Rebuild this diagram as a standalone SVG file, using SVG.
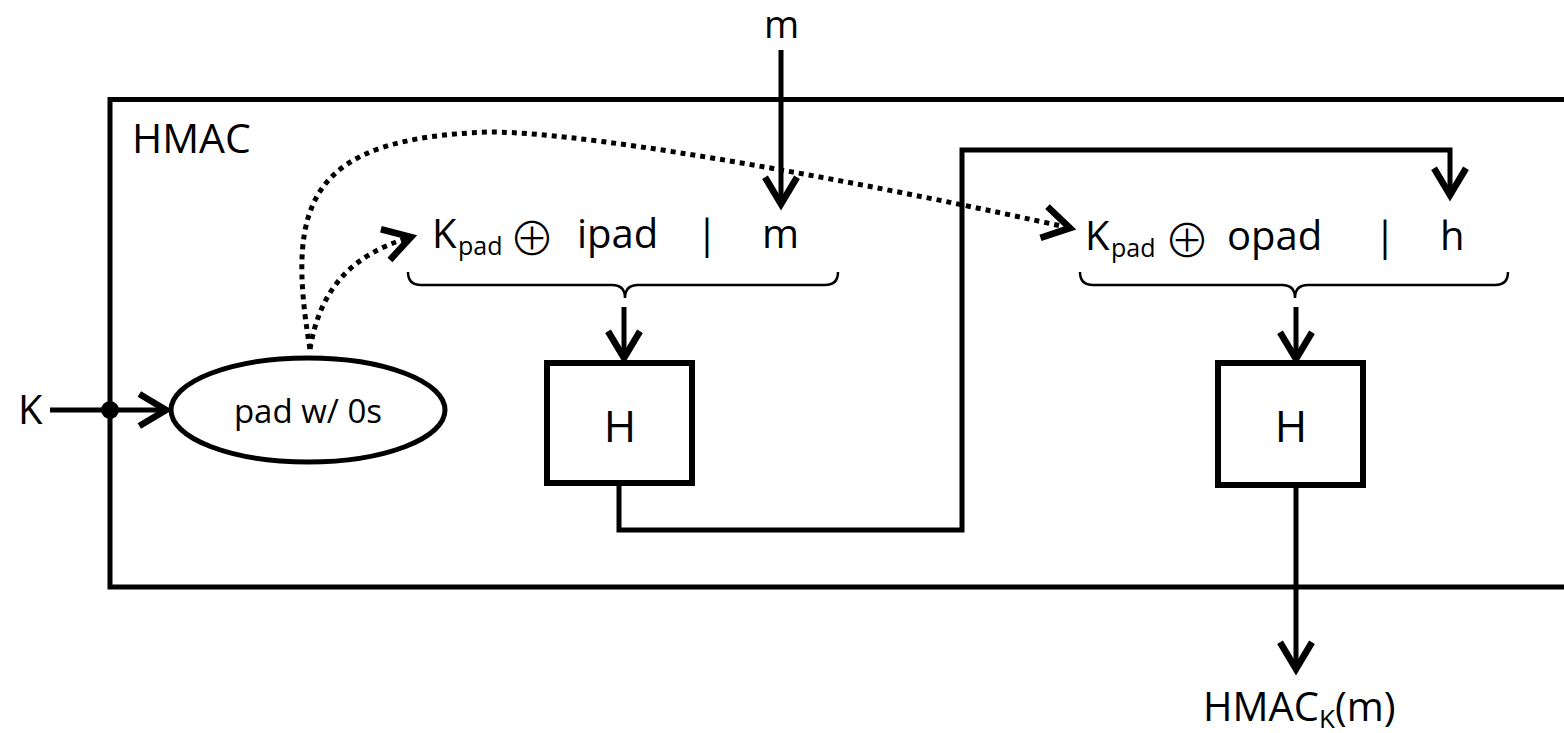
<svg xmlns="http://www.w3.org/2000/svg" width="1564" height="733" viewBox="0 0 1564 733">
<style>
  .ln { fill: none; stroke: #000; stroke-width: 5; }
  .dot { fill: none; stroke: #000; stroke-width: 5; stroke-dasharray: 5 5; }
  .brace { fill: none; stroke: #000; stroke-width: 2.5; }
  .box { fill: #fff; stroke: #000; stroke-width: 6; }
  .t { font-family: "Open Sans", "Liberation Sans", sans-serif; fill: #000; }
  .op { font-family: "Noto Sans CJK SC", "DejaVu Sans", sans-serif; font-weight: 300; fill: #000; }
</style>
<defs>
  <marker id="arr" markerUnits="userSpaceOnUse" markerWidth="40" markerHeight="40" viewBox="-25 -15 30 30" refX="0" refY="0" orient="auto">
    <path d="M -20 -12 L 0 0 L -20 12" fill="none" stroke="#000" stroke-width="5" stroke-linejoin="miter"/>
  </marker>
</defs>

<g id="hmac-frame">
  <path class="ln" d="M 1570 99.5 L 110 99.5 L 110 587 L 1570 587" stroke-width="6"/>
  <text class="t" x="132" y="153" font-size="41">HMAC</text>
</g>

<g id="pad">
  <ellipse cx="308" cy="410" rx="137" ry="52" fill="#fff" stroke="#000" stroke-width="5"/>
  <text class="t" x="308" y="423" font-size="33" text-anchor="middle">pad w/ 0s</text>
</g>

<g id="inner-input">
  <text class="t" x="432" y="248" font-size="40">K</text>
  <text class="t" x="458" y="255" font-size="25">pad</text>
  <text class="op" x="532" y="235" font-size="46" text-anchor="middle" dominant-baseline="central">⊕</text>
  <text class="t" x="577" y="248" font-size="40">ipad</text>
  <text class="t" x="707" y="248" font-size="40" text-anchor="middle">|</text>
  <text class="t" x="762" y="248" font-size="40">m</text>
  <path class="brace" d="M 408 272 Q 408 285 421 285 L 612 285 Q 625 285 625 298 Q 625 285 638 285 L 825 285 Q 838 285 838 272"/>
</g>

<g id="outer-input">
  <text class="t" x="1085" y="250" font-size="40">K</text>
  <text class="t" x="1111" y="257" font-size="25">pad</text>
  <text class="op" x="1187" y="237" font-size="46" text-anchor="middle" dominant-baseline="central">⊕</text>
  <text class="t" x="1227" y="250" font-size="40">opad</text>
  <text class="t" x="1385" y="250" font-size="40" text-anchor="middle">|</text>
  <text class="t" x="1440" y="250" font-size="40">h</text>
  <path class="brace" d="M 1080 272 Q 1080 285 1093 285 L 1282 285 Q 1295 285 1295 298 Q 1295 285 1308 285 L 1495 285 Q 1508 285 1508 272"/>
</g>

<g id="H1">
  <rect class="box" x="547" y="363" width="145" height="120"/>
  <text class="t" x="620" y="442" font-size="44" text-anchor="middle">H</text>
</g>

<g id="H2">
  <rect class="box" x="1218" y="363" width="145" height="122"/>
  <text class="t" x="1291" y="442" font-size="44" text-anchor="middle">H</text>
</g>

<g id="labels">
  <text class="t" x="18" y="424" font-size="40">K</text>
  <text class="t" x="764" y="38" font-size="38">m</text>
  <text class="t" x="1203" y="721" font-size="40">HMAC<tspan font-size="26" dy="7">K</tspan><tspan dy="-7">(m)</tspan></text>
</g>

<g id="connectors">
  <path class="ln" d="M 50 410 L 166 410" marker-end="url(#arr)"/>
  <circle cx="110" cy="410" r="9" fill="#000"/>
  <path class="ln" d="M 781 50 L 781 204" marker-end="url(#arr)"/>
  <path class="ln" d="M 624 307 L 624 358" marker-end="url(#arr)"/>
  <path class="ln" d="M 1296 307 L 1296 359" marker-end="url(#arr)"/>
  <path class="ln" d="M 619 483 L 619 530 L 962 530 L 962 150 L 1450 150 L 1450 195" marker-end="url(#arr)"/>
  <path class="ln" d="M 1296 485 L 1296 669" marker-end="url(#arr)"/>
  <path class="dot" d="M 310 349 C 320 290, 350 255, 411 237" marker-end="url(#arr)"/>
  <path class="dot" d="M 310 349 C 285 200, 310 138, 490 132 C 600 132, 900 190, 1070 228" marker-end="url(#arr)"/>
</g>
</svg>
